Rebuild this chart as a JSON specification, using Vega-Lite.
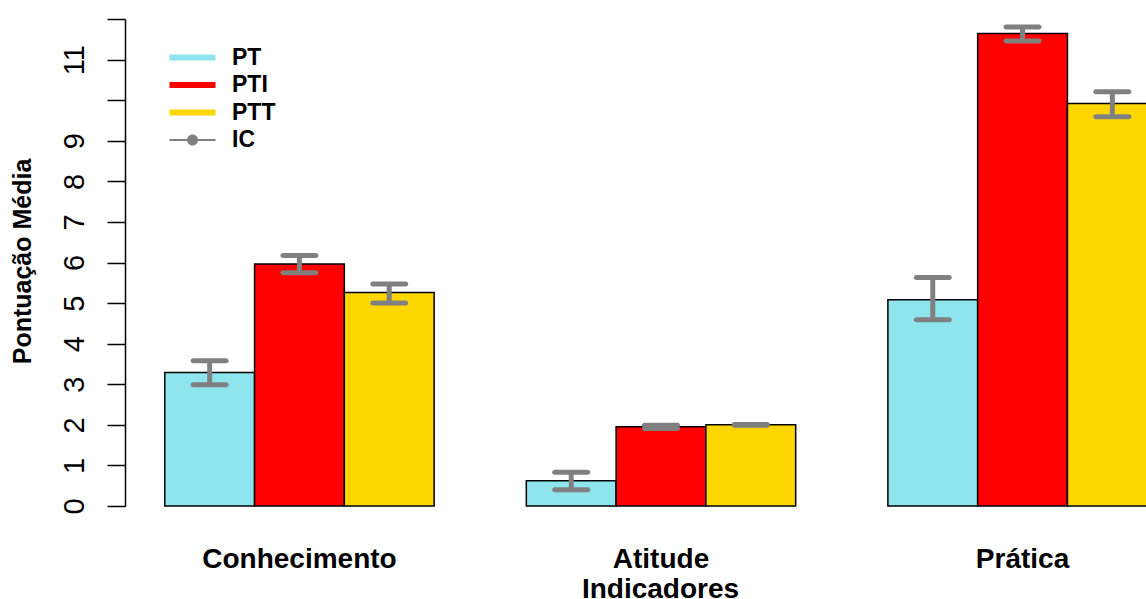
{
  "$schema": "https://vega.github.io/schema/vega-lite/v6.json",
  "width": 1021,
  "height": 487,
  "autosize": {"type": "none"},
  "padding": {"left": 125, "top": 19, "right": 0, "bottom": 93},
  "background": "white",
  "config": {
    "view": {"stroke": null},
    "font": "Liberation Sans"
  },
  "data": {
    "values": [
      {"indicador": "Conhecimento", "grupo": "PT", "media": 3.29, "lo": 2.99, "hi": 3.58},
      {"indicador": "Conhecimento", "grupo": "PTI", "media": 5.96, "lo": 5.75, "hi": 6.17},
      {"indicador": "Conhecimento", "grupo": "PTT", "media": 5.26, "lo": 5.0, "hi": 5.47},
      {"indicador": "Atitude", "grupo": "PT", "media": 0.62, "lo": 0.4, "hi": 0.83},
      {"indicador": "Atitude", "grupo": "PTI", "media": 1.95, "lo": 1.91, "hi": 1.99},
      {"indicador": "Atitude", "grupo": "PTT", "media": 2.0, "lo": 1.99, "hi": 2.01},
      {"indicador": "Prática", "grupo": "PT", "media": 5.08, "lo": 4.59, "hi": 5.63},
      {"indicador": "Prática", "grupo": "PTI", "media": 11.64, "lo": 11.46, "hi": 11.8},
      {"indicador": "Prática", "grupo": "PTT", "media": 9.92, "lo": 9.59, "hi": 10.21}
    ]
  },
  "encoding": {
    "x": {
      "field": "indicador",
      "type": "nominal",
      "sort": ["Conhecimento", "Atitude", "Prática"],
      "scale": {"range": [0, 1072], "paddingInner": 0.255, "paddingOuter": 0.11},
      "axis": {
        "title": "Indicadores",
        "titleFont": "Liberation Sans",
        "titleFontSize": 28,
        "titleFontWeight": "bold",
        "titleColor": "black",
        "titleX": 535,
        "titleY": 91,
        "titleAlign": "center",
        "titleBaseline": "alphabetic",
        "domain": false,
        "ticks": false,
        "labelAngle": 0,
        "labelLimit": 0,
        "labelFont": "Liberation Sans",
        "labelFontSize": 28,
        "labelFontWeight": "bold",
        "labelColor": "black",
        "labelBaseline": "alphabetic",
        "labelPadding": 61
      }
    },
    "xOffset": {
      "field": "grupo",
      "type": "nominal",
      "sort": ["PT", "PTI", "PTT"],
      "scale": {"paddingInner": 0, "paddingOuter": 0}
    }
  },
  "layer": [
    {
      "mark": {"type": "bar", "stroke": "black", "strokeWidth": 1.5},
      "encoding": {
        "y": {
          "field": "media",
          "type": "quantitative",
          "scale": {"domain": [0, 12], "nice": false, "zero": true},
          "axis": {
            "title": "Pontuação Média",
            "titleFont": "Liberation Sans",
            "titleFontSize": 25,
            "titleFontWeight": "bold",
            "titleColor": "black",
            "titleAngle": -90,
            "titleX": -95,
            "titleY": 242,
            "titleAlign": "center",
            "titleBaseline": "alphabetic",
            "values": [0, 1, 2, 3, 4, 5, 6, 7, 8, 9, 10, 11, 12],
            "labelExpr": "datum.value == 10 || datum.value == 12 ? '' : datum.label",
            "grid": false,
            "domainColor": "black",
            "domainWidth": 1.5,
            "tickColor": "black",
            "tickWidth": 1.5,
            "tickSize": 18,
            "labelAngle": -90,
            "labelAlign": "center",
            "labelBaseline": "bottom",
            "labelPadding": 18,
            "labelFont": "Liberation Sans",
            "labelFontSize": 29,
            "labelColor": "black"
          }
        },
        "color": {
          "field": "grupo",
          "type": "nominal",
          "scale": {"domain": ["PT", "PTI", "PTT"], "range": ["#8EE5EE", "#FF0000", "#FFD700"]},
          "legend": null
        }
      }
    },
    {
      "mark": {"type": "rule", "color": "#808080", "strokeWidth": 5},
      "encoding": {
        "y": {"field": "lo", "type": "quantitative"},
        "y2": {"field": "hi"}
      }
    },
    {
      "mark": {"type": "tick", "color": "#808080", "size": 38, "thickness": 5, "cornerRadius": 2.5, "opacity": 1},
      "encoding": {
        "y": {"field": "lo", "type": "quantitative"}
      }
    },
    {
      "mark": {"type": "tick", "color": "#808080", "size": 38, "thickness": 5, "cornerRadius": 2.5, "opacity": 1},
      "encoding": {
        "y": {"field": "hi", "type": "quantitative"}
      }
    },
    {
      "mark": {"type": "point", "filled": true, "size": 0, "strokeWidth": 0},
      "encoding": {
        "y": {"field": "media", "type": "quantitative"},
        "fill": {
          "field": "grupo",
          "type": "nominal",
          "scale": {"domain": ["PT", "PTI", "PTT", "IC"], "range": ["#8EE5EE", "#FF0000", "#FFD700", "#808080"]},
          "legend": {
            "title": null,
            "orient": "none",
            "legendX": 56,
            "legendY": 27,
            "padding": 0,
            "symbolSize": 400,
            "symbolOpacity": 1,
            "symbolStrokeWidth": 0,
            "labelFont": "Liberation Sans",
            "labelFontSize": 23,
            "labelFontWeight": "bold",
            "labelColor": "black",
            "labelOffset": 28,
            "rowPadding": 3.5
          }
        },
        "shape": {
          "field": "grupo",
          "type": "nominal",
          "scale": {
            "domain": ["PT", "PTI", "PTT", "IC"],
            "range": [
              "M-2.3,-0.3H2.3V0.3H-2.3Z",
              "M-2.3,-0.3H2.3V0.3H-2.3Z",
              "M-2.3,-0.3H2.3V0.3H-2.3Z",
              "M-2.3,-0.1H2.3V0.1H-2.3ZM0.55,0A0.55,0.55 0 1,1 -0.55,0A0.55,0.55 0 1,1 0.55,0Z"
            ]
          },
          "legend": {
            "title": null,
            "orient": "none",
            "legendX": 56,
            "legendY": 27,
            "padding": 0,
            "symbolSize": 400,
            "symbolOpacity": 1,
            "symbolStrokeWidth": 0,
            "labelFont": "Liberation Sans",
            "labelFontSize": 23,
            "labelFontWeight": "bold",
            "labelColor": "black",
            "labelOffset": 28,
            "rowPadding": 3.5
          }
        }
      }
    }
  ]
}
